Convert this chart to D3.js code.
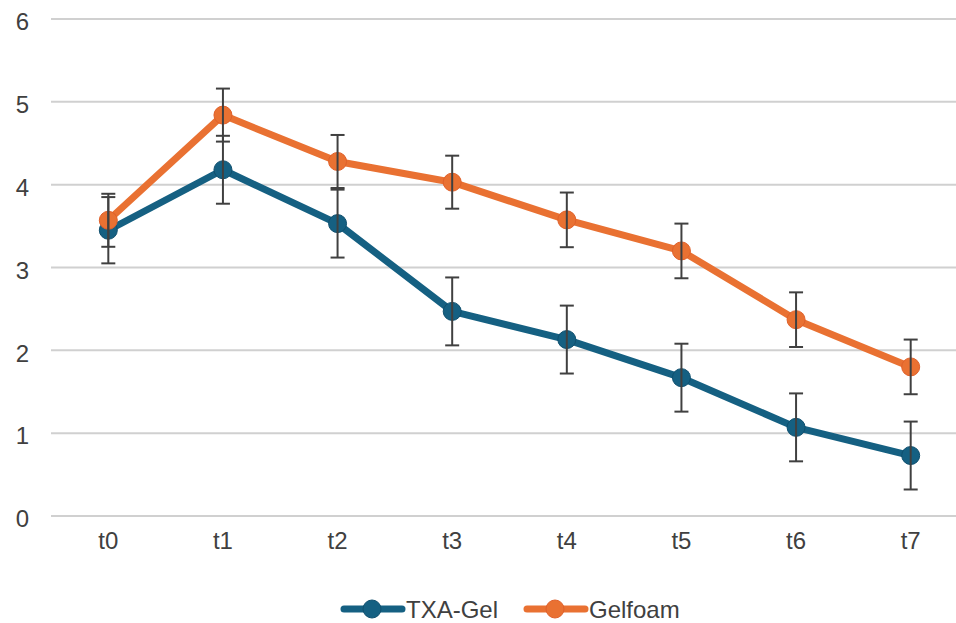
<!DOCTYPE html>
<html><head><meta charset="utf-8">
<script src="https://cdn.jsdelivr.net/npm/d3@7"></script>
<style>
html,body{margin:0;padding:0;background:#fff;}
text{font-family:"Liberation Sans",Arial,sans-serif;fill:#404040;}
</style></head>
<body><svg id="c" width="956" height="623"></svg>
<script>
const categories = ["t0","t1","t2","t3","t4","t5","t6","t7"];
const seriesNames = ["TXA-Gel","Gelfoam"];
const txaValues = [3.45,4.18,3.53,2.47,2.13,1.67,1.07,0.73];
const txaErrors = [0.40,0.41,0.41,0.41,0.41,0.41,0.41,0.41];
const gelValues = [3.57,4.84,4.28,4.03,3.575,3.20,2.37,1.80];
const gelErrors = [0.32,0.32,0.32,0.32,0.33,0.33,0.33,0.33];
const yTicks = [0,1,2,3,4,5,6];
const colors = ["#156082","#E97132"];
const strokeColors = ["#0f4f6e","#e0602a"];

const FS = 24;
const svg = d3.select("#c");
const x = d3.scaleBand().domain(categories).range([51,968]);
const y = d3.scaleLinear().domain([0,6]).range([516,19]);
const cx = d => x(d) + x.bandwidth()/2;

// gridlines
svg.append("g").selectAll("line").data(yTicks).join("line")
  .attr("x1",51).attr("x2",968)
  .attr("y1",d=>y(d)).attr("y2",d=>y(d))
  .attr("stroke","#d0d0d0").attr("stroke-width",2);

// y axis labels
const yAxis = d3.axisLeft(y).tickValues(yTicks).tickSize(0).tickPadding(0).tickFormat(d3.format("d"));
const ya = svg.append("g").attr("transform","translate(29,0)").call(yAxis);
ya.select(".domain").remove();
ya.selectAll("text").attr("font-size",FS).attr("dy","0.45em")
  .style("font-family","Liberation Sans, Arial, sans-serif").attr("fill","#404040");

// x axis labels
const xAxis = d3.axisBottom(x).tickSize(0).tickPadding(0);
const xa = svg.append("g").attr("transform","translate(0,532)").call(xAxis);
xa.select(".domain").remove();
xa.selectAll("text").attr("font-size",FS).attr("dy","0.72em")
  .style("font-family","Liberation Sans, Arial, sans-serif").attr("fill","#404040");

const series = [
  {name:seriesNames[0], values:txaValues, errors:txaErrors, color:colors[0], stroke:strokeColors[0]},
  {name:seriesNames[1], values:gelValues, errors:gelErrors, color:colors[1], stroke:strokeColors[1]}
];

const line = d3.line().x((d,i)=>cx(categories[i])).y(d=>y(d));

series.forEach(s=>{
  const g = svg.append("g");
  g.append("path").attr("d",line(s.values)).attr("fill","none")
    .attr("stroke",s.color).attr("stroke-width",7).attr("stroke-linejoin","round");
  g.selectAll("circle").data(s.values).join("circle")
    .attr("cx",(d,i)=>cx(categories[i])).attr("cy",d=>y(d)).attr("r",9)
    .attr("fill",s.color).attr("stroke",s.stroke).attr("stroke-width",1);
});

// error bars on top
series.forEach(s=>{
  const g = svg.append("g").attr("stroke","#404040").attr("stroke-width",2);
  s.values.forEach((v,i)=>{
    const xx = cx(categories[i]);
    const hi = y(v + s.errors[i]), lo = y(v - s.errors[i]);
    g.append("line").attr("x1",xx).attr("x2",xx).attr("y1",hi).attr("y2",lo);
    g.append("line").attr("x1",xx-7).attr("x2",xx+7).attr("y1",hi).attr("y2",hi);
    g.append("line").attr("x1",xx-7).attr("x2",xx+7).attr("y1",lo).attr("y2",lo);
  });
});

// legend
const legendItems = [
  {name:seriesNames[0], color:colors[0], stroke:strokeColors[0], x:344},
  {name:seriesNames[1], color:colors[1], stroke:strokeColors[1], x:527}
];
const ly = 609;
legendItems.forEach(it=>{
  const g = svg.append("g");
  g.append("line").attr("x1",it.x).attr("x2",it.x+58).attr("y1",ly).attr("y2",ly)
    .attr("stroke",it.color).attr("stroke-width",7).attr("stroke-linecap","round");
  g.append("circle").attr("cx",it.x+28).attr("cy",ly).attr("r",9)
    .attr("fill",it.color).attr("stroke",it.stroke).attr("stroke-width",1);
  g.append("text").attr("x",it.x+62).attr("y",ly).attr("dy","0.36em")
    .attr("font-size",FS).text(it.name);
});
</script></body></html>
